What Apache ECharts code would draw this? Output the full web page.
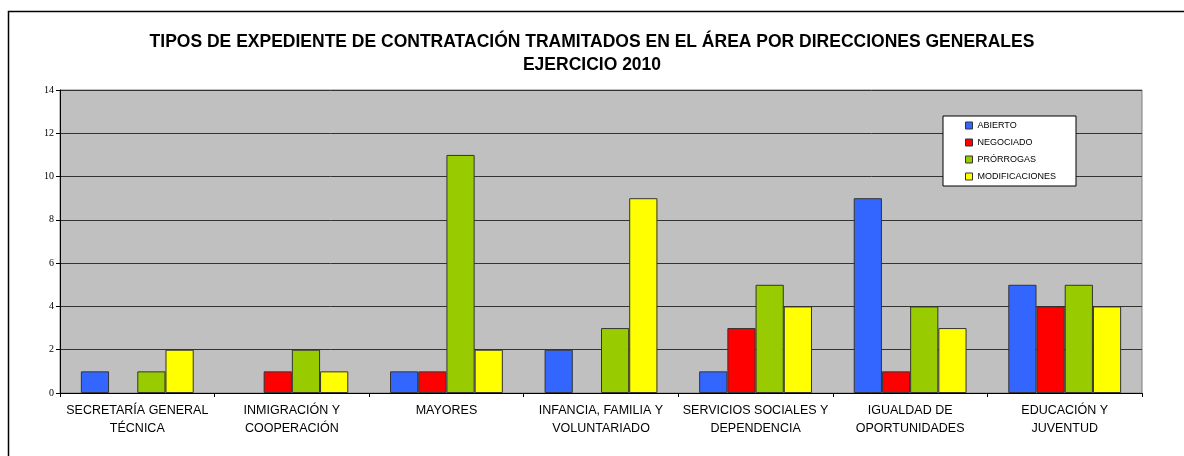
<!DOCTYPE html>
<html>
<head>
<meta charset="utf-8">
<script src="https://cdn.jsdelivr.net/npm/echarts@6/dist/echarts.min.js"></script>
<style>
html,body{margin:0;padding:0;background:#fff;}
#chart{width:1184px;height:456px;}
</style>
</head>
<body>
<div id="chart"></div>
<script>
const categories = [
  'SECRETARÍA GENERAL\nTÉCNICA',
  'INMIGRACIÓN Y\nCOOPERACIÓN',
  'MAYORES',
  'INFANCIA, FAMILIA Y\nVOLUNTARIADO',
  'SERVICIOS SOCIALES Y\nDEPENDENCIA',
  'IGUALDAD DE\nOPORTUNIDADES',
  'EDUCACIÓN Y\nJUVENTUD'
];
const abierto       = [1, 0, 1, 2, 1, 9, 5];
const negociado     = [0, 1, 1, 0, 3, 1, 4];
const prorrogas     = [1, 2, 11, 3, 5, 4, 5];
const modificaciones= [2, 1, 2, 9, 4, 3, 4];
const seriesNames = ['ABIERTO', 'NEGOCIADO', 'PRÓRROGAS', 'MODIFICACIONES'];
const seriesColors = ['#3366FF', '#FF0000', '#99CC00', '#FFFF00'];
const yTicks = { min: 0, max: 14, interval: 2 };

const chart = echarts.init(document.getElementById('chart'), null, { renderer: 'canvas' });
const allData = [abierto, negociado, prorrogas, modificaciones];

chart.setOption({
  animation: false,
  backgroundColor: '#ffffff',
  title: {
    text: 'TIPOS DE EXPEDIENTE DE CONTRATACIÓN TRAMITADOS EN EL ÁREA POR DIRECCIONES GENERALES\nEJERCICIO 2010',
    left: 592, top: 31, textAlign: 'center', padding: 0,
    textStyle: { fontFamily: 'Liberation Sans', fontWeight: 'bold', fontSize: 17.5, lineHeight: 23, color: '#000' }
  },
  legend: {
    orient: 'vertical',
    left: 943, top: 116,
    width: 134,
    backgroundColor: '#ffffff',
    borderColor: '#000', borderWidth: 1,
    padding: [4, 20, 4, 22],
    itemWidth: 7, itemHeight: 7, itemGap: 6, itemTextGap: 2,
    icon: 'rect',
    itemStyle: { borderColor: '#333', borderWidth: 1 },
    textStyle: { fontFamily: 'Liberation Sans', fontSize: 9, lineHeight: 11, color: '#000' },
    data: seriesNames
  },
  grid: { left: 60, right: 42, top: 90, bottom: 63, show: true, backgroundColor: '#C0C0C0', borderColor: '#808080', borderWidth: 1 },
  xAxis: {
    type: 'category', data: categories,
    axisLine: { lineStyle: { color: '#000', width: 1 } },
    axisTick: { show: true, length: 4, alignWithLabel: false, lineStyle: { color: '#000' } },
    axisLabel: { fontFamily: 'Liberation Sans', fontSize: 12.5, lineHeight: 18.5, color: '#000', margin: 8, interval: 0 }
  },
  yAxis: {
    type: 'value', min: yTicks.min, max: yTicks.max, interval: yTicks.interval,
    axisLine: { show: true, lineStyle: { color: '#000' } },
    axisTick: { show: true, length: 4, lineStyle: { color: '#000' } },
    axisLabel: { fontFamily: 'Liberation Serif', fontSize: 10, color: '#000', margin: 6 },
    splitLine: { show: true, lineStyle: { color: '#333', width: 1 } }
  },
  series: seriesNames.map((n, i) => ({
    name: n, type: 'bar', data: allData[i].map(v => v === 0 ? '-' : v),
    barGap: '0%', barCategoryGap: '27%',
    itemStyle: { color: seriesColors[i], borderColor: '#333', borderWidth: 1 }
  })),
  graphic: [{
    type: 'polyline',
    shape: { points: [[8.5, 460], [8.5, 11.5], [1190, 11.5]] },
    style: { stroke: '#000', lineWidth: 1.5, fill: null }
  }]
});
</script>
</body>
</html>
